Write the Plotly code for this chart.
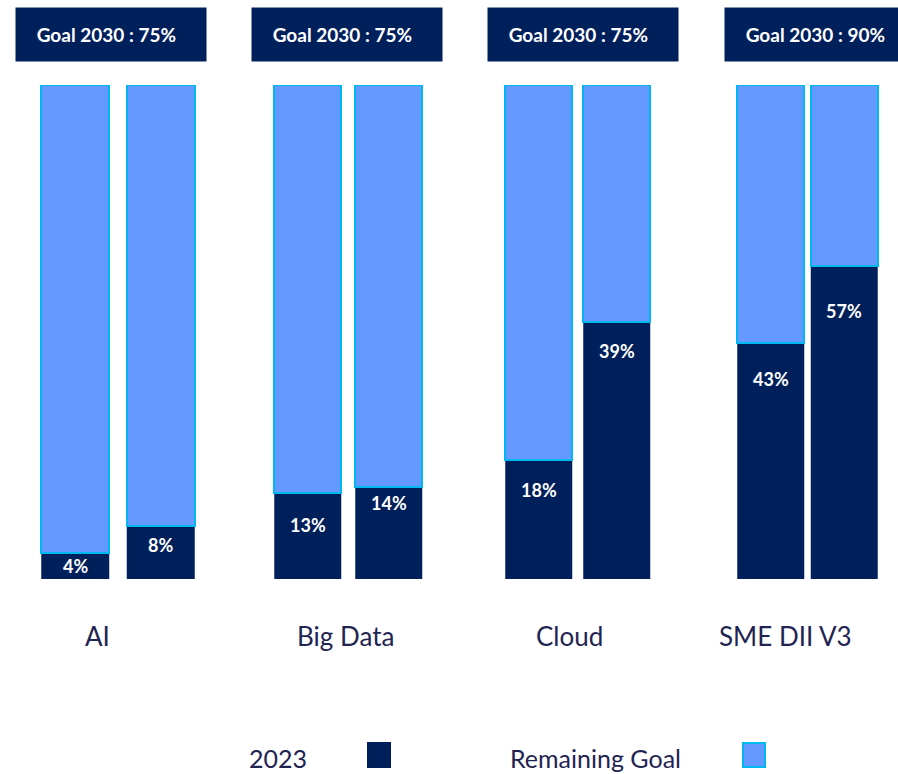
import plotly.graph_objects as go

categories = ["AI", "Big Data", "Cloud", "SME DII V3"]
goals = [75, 75, 75, 90]
bar_names = ["Indicator A", "Indicator B"]
values_2023 = [[4, 8], [13, 14], [18, 39], [43, 57]]

NAVY = "#00205B"
LIGHT = "#6699FF"
CYAN = "#00B8F0"
TEXT = "#1F2452"
FONT = "Lato, 'Open Sans', sans-serif"

W, H = 898, 774

def px_x(p):
    return p / W

def px_y(p):
    return 1 - p / H

# layout styling: pixel centers of bars, bar pixel widths, label offsets from bar top
centers = [(75, 160.5), (307.5, 388.5), (538.5, 616.5), (770.5, 844)]
barpx = [68, 67, 67, 67]
label_offsets = [[13, 19], [32, 16], [30, 29], [36, 45]]
cat_label_x = [97, 345, 569, 785]

fig = go.Figure()
y_dom = [px_y(579), px_y(85)]

for i, cat in enumerate(categories):
    c1, c2 = centers[i]
    sp = c2 - c1
    dom = [px_x(c1 - sp / 2), px_x(c2 + sp / 2)]
    xa = "x" if i == 0 else f"x{i+1}"
    ya = "y" if i == 0 else f"y{i+1}"
    bw = barpx[i] / sp
    vals = values_2023[i]
    rem = [goals[i] - v for v in vals]
    fig.add_trace(go.Bar(
        x=bar_names, y=vals, name="2023", xaxis=xa, yaxis=ya,
        marker=dict(color=NAVY, line=dict(color="#7F8FB8", width=0.5)),
        width=bw, showlegend=False,
    ))
    fig.add_trace(go.Bar(
        x=bar_names, y=rem, name="Remaining Goal", xaxis=xa, yaxis=ya,
        marker=dict(color=LIGHT, line=dict(color=CYAN, width=2)),
        width=bw, showlegend=False, hoverinfo="skip",
    ))
    fig.update_layout({
        ("xaxis" if i == 0 else f"xaxis{i+1}"): dict(
            domain=dom, showticklabels=False, showgrid=False, zeroline=False,
            showline=False, ticks="", anchor=ya, range=[-0.5, 1.5]),
        ("yaxis" if i == 0 else f"yaxis{i+1}"): dict(
            domain=y_dom, range=[0, goals[i]], visible=False, anchor=xa),
    })
    # value labels inside dark bars
    for j, v in enumerate(vals):
        fig.add_annotation(
            text=f"<b>{v}%</b>", xref=xa, yref=ya, x=bar_names[j], y=v,
            showarrow=False, xanchor="center", yanchor="middle",
            yshift=-label_offsets[i][j],
            font=dict(size=18, color="white", family=FONT))
    # category label
    fig.add_annotation(
        text=cat, xref="paper", yref="paper", x=px_x(cat_label_x[i]), y=px_y(636),
        showarrow=False, yanchor="middle", xanchor="center",
        font=dict(size=26, color=TEXT, family=FONT))

# goal boxes
box_centers = [111, 347, 583, 820]
for i, g in enumerate(goals):
    fig.add_annotation(
        text=f"<b>Goal 2030 : {g}%&nbsp;&nbsp;</b>", xref="paper", yref="paper",
        x=px_x(box_centers[i]), y=px_y(34), showarrow=False,
        xanchor="center", yanchor="middle", width=190, height=53,
        bgcolor=NAVY, borderpad=0,
        font=dict(size=19, color="white", family=FONT))

# legend
legend_items = [("2023", 278, 379, NAVY, NAVY), ("Remaining Goal", 595, 754, LIGHT, CYAN)]
for name, tx, sx, fill, line in legend_items:
    fig.add_annotation(
        text=name, xref="paper", yref="paper", x=px_x(tx), y=px_y(758),
        showarrow=False, xanchor="center", yanchor="middle",
        font=dict(size=25, color=TEXT, family=FONT))
    fig.add_shape(
        type="rect", xref="paper", yref="paper",
        x0=px_x(sx - 11), x1=px_x(sx + 11), y0=px_y(767), y1=px_y(743),
        fillcolor=fill, line=dict(color=line, width=2))

fig.update_layout(
    barmode="stack", width=W, height=H,
    margin=dict(l=0, r=0, t=0, b=0),
    paper_bgcolor="white", plot_bgcolor="white",
    font=dict(family=FONT, color=TEXT),
    showlegend=False,
)

fig.write_html("out.html", config={"displayModeBar": False},
               post_script="document.body.style.margin='0';")
